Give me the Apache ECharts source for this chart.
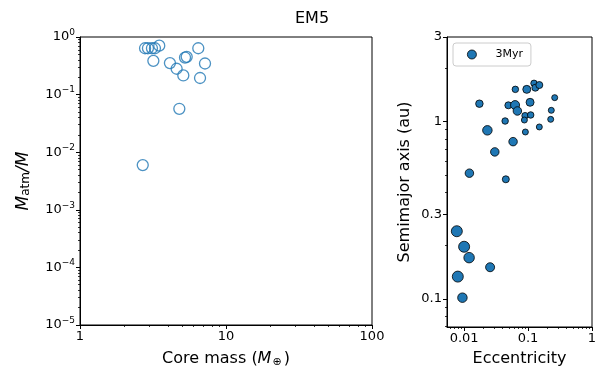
<!DOCTYPE html>
<html><head><meta charset="utf-8">
<script src="https://cdn.jsdelivr.net/npm/echarts@6/dist/echarts.min.js"></script>
<style>html,body{margin:0;padding:0;background:#fff}#c{width:605px;height:373px}</style>
</head><body><div id="c"></div>
<script>
// Left panel: core mass vs atmosphere mass fraction
var coreMass = [2.79, 2.92, 3.11, 3.26, 3.49, 3.18, 4.13, 4.59, 5.10, 5.24, 5.38, 6.46, 7.18, 6.64, 4.79, 2.69];
var atmFrac  = [0.638, 0.638, 0.638, 0.638, 0.708, 0.386, 0.352, 0.281, 0.215, 0.44, 0.452, 0.638, 0.347, 0.194, 0.0567, 0.00597];
// Right panel: eccentricity vs semimajor axis (marker size ~ planet mass)
var ecc  = [0.01734, 0.02312, 0.0438, 0.0492, 0.0627, 0.0681, 0.0633, 0.0955, 0.124, 0.130, 0.150, 0.1075, 0.0898, 0.110, 0.0876, 0.0908, 0.150, 0.261, 0.231, 0.226, 0.0583, 0.0302, 0.0121, 0.0449, 0.00769, 0.0100, 0.01197, 0.0255, 0.00797, 0.00941];
var semi = [1.262, 0.893, 1.008, 1.236, 1.24, 1.148, 1.52, 1.52, 1.644, 1.553, 1.608, 1.285, 1.080, 1.090, 1.021, 0.874, 0.933, 1.365, 1.158, 1.030, 0.771, 0.675, 0.512, 0.473, 0.241, 0.197, 0.171, 0.151, 0.1337, 0.1017];
var markerSize = [7.5, 9.5, 6.5, 7, 9, 8.5, 6.5, 8, 6.5, 7, 7, 8, 6.5, 6.5, 6, 6, 6, 6, 6, 6, 8.5, 8.5, 8.5, 7, 11, 11, 10.5, 9, 11, 9.5];
var leftXMinor = [2,3,4,5,6,7,8,9,20,30,40,50,60,70,80,90];
var leftYMinor = [];
for (var d = -5; d < 0; d++) for (var k = 2; k <= 9; k++) leftYMinor.push(k * Math.pow(10, d));
var rightXTicks = [0.01, 0.1, 1];
var rightXMinor = [0.006,0.007,0.008,0.009,0.02,0.03,0.04,0.05,0.06,0.07,0.08,0.09,0.2,0.3,0.4,0.5,0.6,0.7,0.8,0.9];
var rightYTicks = [0.1, 0.3, 1, 3];
var rightYMinor = [0.07,0.08,0.09,0.2,0.4,0.5,0.6,0.7,0.8,0.9,2];

var FONT = 'DejaVu Sans';
var BLUE = '#1f77b4';
function pairs(a, b) { return a.map(function (v, i) { return [v, b[i]]; }); }

function mainAxis(o) {
  var base = {
    type: 'log', logBase: 10,
    axisLine: { show: true, onZero: false, lineStyle: { color: '#000', width: 1 } },
    axisTick: { show: true, inside: false, length: 4, lineStyle: { color: '#000', width: 1 } },
    axisLabel: { color: '#000', fontFamily: FONT, fontSize: 13, margin: 5 },
    splitLine: { show: false },
    nameTextStyle: { color: '#000', fontFamily: FONT, fontSize: 16 }
  };
  return Object.assign(base, o);
}
function minorAxis(o, vals) {
  return Object.assign({
    type: 'log', logBase: 10,
    axisLine: { show: false },
    axisTick: { show: true, inside: false, length: 2, lineStyle: { color: '#000', width: 0.8 }, customValues: vals },
    axisLabel: { show: false },
    splitLine: { show: false }
  }, o);
}

var chart = echarts.init(document.getElementById('c'), null, { renderer: 'canvas' });
chart.setOption({
  animation: false,
  backgroundColor: '#fff',
  title: { text: 'EM5', left: 290, top: 6, textStyle: { fontFamily: FONT, fontSize: 16, fontWeight: 'normal', color: '#000' } },
  grid: [
    { left: 80, right: 233, top: 37, bottom: 46, show: true, borderColor: '#000', borderWidth: 1, backgroundColor: 'transparent' },
    { left: 447, right: 13, top: 37, bottom: 46, show: true, borderColor: '#000', borderWidth: 1, backgroundColor: 'transparent' }
  ],
  legend: {
    data: ['3Myr'], left: 453, top: 43, orient: 'vertical',
    icon: 'circle', itemWidth: 9, itemHeight: 9, itemGap: 5,
    itemStyle: { borderWidth: 0.8, borderColor: '#000' },
    padding: [6, 8, 6, 14], borderColor: '#ccc', borderWidth: 1, borderRadius: 3,
    textStyle: { fontFamily: FONT, fontSize: 11, color: '#000', padding: [0, 0, 0, 14] }
  },
  xAxis: [
    mainAxis({ gridIndex: 0, min: 1, max: 100, interval: 1, position: 'bottom',
      nameLocation: 'middle', nameGap: 24,
      name: 'Core mass ({i|M}{s|⊕})',
      nameTextStyle: { color: '#000', fontFamily: FONT, fontSize: 16,
        rich: { i: { fontStyle: 'italic', fontFamily: FONT, fontSize: 16 }, s: { fontFamily: FONT, fontSize: 11, padding: [8, 2, 0, 1] } } } }),
    mainAxis({ gridIndex: 1, min: 0.0054, max: 1, position: 'bottom',
      axisTick: { show: true, inside: false, length: 4, lineStyle: { color: '#000', width: 1 }, customValues: rightXTicks },
      axisLabel: { color: '#000', fontFamily: FONT, fontSize: 13, margin: 5, customValues: rightXTicks, formatter: function (v) { return String(+v.toPrecision(3)); } },
      name: 'Eccentricity', nameLocation: 'middle', nameGap: 24 }),
    minorAxis({ gridIndex: 0, min: 1, max: 100, position: 'bottom' }, leftXMinor),
    minorAxis({ gridIndex: 1, min: 0.0054, max: 1, position: 'bottom' }, rightXMinor)
  ],
  yAxis: [
    mainAxis({ gridIndex: 0, min: 1e-5, max: 1, interval: 1, position: 'left',
      axisLabel: { color: '#000', fontFamily: FONT, fontSize: 13, margin: 5,
        formatter: function (v) { var e = Math.round(Math.log10(v)); return '{b|10}{s|' + (e < 0 ? '−' : '') + Math.abs(e) + '}'; },
        rich: { b: { fontFamily: FONT, fontSize: 13, color: '#000' }, s: { fontFamily: FONT, fontSize: 9, color: '#000', padding: [0, 0, 9, 0] } } },
      name: '{i|M}{s|atm}{i|/M}', nameLocation: 'middle', nameGap: 48,
      nameTextStyle: { color: '#000', fontFamily: FONT, fontSize: 17,
        rich: { i: { fontStyle: 'italic', fontFamily: FONT, fontSize: 17 }, s: { fontFamily: FONT, fontSize: 12, padding: [0, 0, 0, 0], verticalAlign: 'bottom' } } } }),
    mainAxis({ gridIndex: 1, min: 0.0695, max: 3, position: 'left',
      axisTick: { show: true, inside: false, length: 4, lineStyle: { color: '#000', width: 1 }, customValues: rightYTicks },
      axisLabel: { color: '#000', fontFamily: FONT, fontSize: 13, margin: 5, customValues: rightYTicks, formatter: function (v) { return String(+v.toPrecision(3)); } },
      name: 'Semimajor axis (au)', nameLocation: 'middle', nameGap: 34 }),
    minorAxis({ gridIndex: 0, min: 1e-5, max: 1, position: 'left' }, leftYMinor),
    minorAxis({ gridIndex: 1, min: 0.0695, max: 3, position: 'left' }, rightYMinor)
  ],
  series: [
    { type: 'scatter', xAxisIndex: 0, yAxisIndex: 0, data: pairs(coreMass, atmFrac),
      symbol: 'circle', symbolSize: 11,
      itemStyle: { color: 'rgba(255,255,255,0)', borderColor: BLUE, borderWidth: 1.3 } },
    { type: 'scatter', name: '3Myr', xAxisIndex: 1, yAxisIndex: 1, data: pairs(ecc, semi),
      symbol: 'circle', symbolSize: function (v, p) { return markerSize[p.dataIndex]; },
      itemStyle: { color: BLUE, borderColor: '#000', borderWidth: 0.8, opacity: 1 } }
  ]
});
</script></body></html>
